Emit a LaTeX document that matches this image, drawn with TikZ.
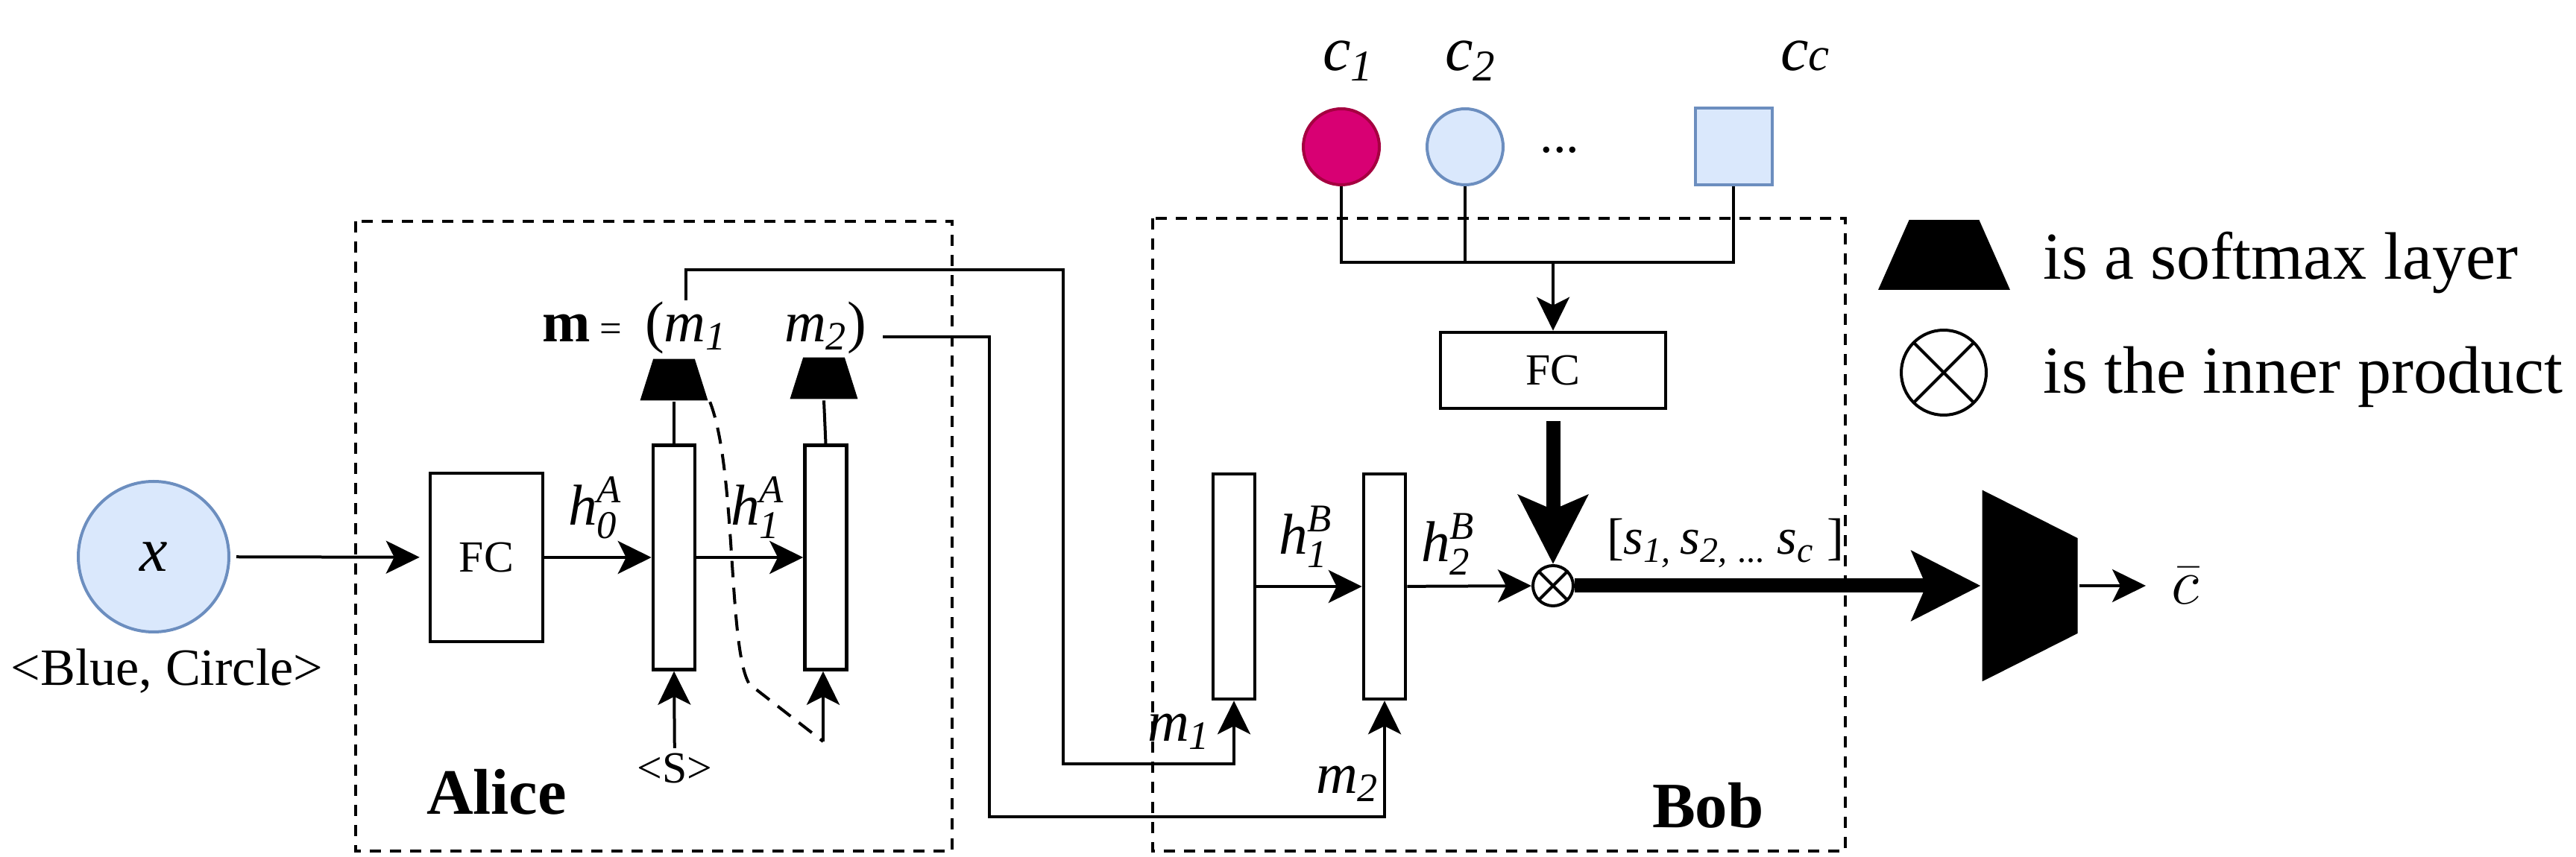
\documentclass[tikz,border=0pt]{standalone}
\usepackage{fontspec}
\setmainfont{Liberation Serif}
\usetikzlibrary{shapes.geometric,arrows.meta}
\definecolor{blfill}{HTML}{DAE8FC}
\definecolor{bldraw}{HTML}{6C8EBF}
\definecolor{rdfill}{HTML}{D80073}
\definecolor{rddraw}{HTML}{A50040}
\newcommand{\scr}[1]{{\fontsize{15}{17}\selectfont\textit{#1}}}
\newcommand{\hsym}[2]{\textit{h}\rlap{\raisebox{0.40em}{\scr{#2}}}\raisebox{-0.22em}{\scr{#1}}}
\newcommand{\isym}[2]{\textit{#1}\textsubscript{\textit{#2}}}
\begin{document}
\begin{tikzpicture}
[line width=0.04cm,
 >={Stealth[length=0.45cm,width=0.44cm,inset=0.11cm]},
 bigarrow/.style={line width=0.19cm,-{Stealth[length=0.92cm,width=0.92cm,inset=0.19cm]}},
 fcbox/.style={draw,line width=0.045cm,inner sep=0,font=\fontsize{17}{20}\selectfont},
 grubox/.style={draw,line width=0.045cm,inner sep=0,minimum width=0.56cm,minimum height=3.01cm},
 softmax/.style={trapezium,fill=black,inner sep=0.01pt},
 token/.style={circle,draw=bldraw,fill=blfill,inner sep=0},
 prod/.style={circle,draw,inner sep=0,path picture={
   \draw (path picture bounding box.north west) -- (path picture bounding box.south east)
         (path picture bounding box.north east) -- (path picture bounding box.south west);}},
 lab/.style={inner sep=0,anchor=base west,font=\fontsize{22}{26}\selectfont},
 biglab/.style={inner sep=0,anchor=base west,font=\fontsize{24}{28}\selectfont},
 party/.style={inner sep=0,anchor=base west,font=\fontsize{24.7}{28}\selectfont\bfseries},
 legtext/.style={inner sep=0,anchor=base west,font=\fontsize{25.6}{30}\selectfont},
 agentbox/.style={dash pattern=on 0.15cm off 0.12cm},
 feedback/.style={dash pattern=on 0.22cm off 0.14cm}]
\useasboundingbox (0,0) rectangle (34.55,-11.50);

%% input object
\node[token,minimum size=2.02cm,font=\fontsize{24}{28}\selectfont\itshape] (x) at (2.06,-7.47) {x};
\node[inner sep=0,anchor=base,font=\fontsize{20}{24}\selectfont] (xdesc) at (2.24,-9.20) {<Blue, Circle>};

%% Alice
\draw[agentbox] (4.77,-2.97) rectangle (12.77,-11.42);
\node[party] (alice) at (5.70,-10.93) {Alice};
\node[fcbox,minimum width=1.51cm,minimum height=2.26cm] (fcA) at (6.525,-7.48) {FC};
\node[grubox] (gruA1) at (9.04,-7.48) {};
\node[grubox] (gruA2) at (11.075,-7.48) {};
\node[softmax,minimum width=0.91cm,minimum height=0.49cm,trapezium angle=72.4] (smA1) at (9.04,-5.095) {};
\node[softmax,minimum width=0.91cm,minimum height=0.49cm,trapezium angle=72.4] (smA2) at (11.05,-5.075) {};
\node[lab] (mvec) at (7.25,-4.59) {\textbf{m}\,{\fontsize{15}{18}\selectfont =}};
\node[lab] (m1A) at (8.63,-4.59) {(\isym{m}{1}};
\node[lab] (m2A) at (10.50,-4.59) {\isym{m}{2})};
\node[lab] (hA0) at (7.60,-7.05) {\hsym{0}{A}};
\node[lab] (hA1) at (9.78,-7.05) {\hsym{1}{A}};
\node[inner sep=0.05cm,font=\fontsize{17}{20}\selectfont] (sos) at (9.05,-10.31) {<S>};
\coordinate (a2in) at (11.04,-9.95);

\draw[->,shorten <=0.08cm,shorten >=0.12cm] (x) -- (fcA);
\draw[->] (fcA) -- (gruA1);
\draw[->] (gruA1) -- (gruA2);
\draw (gruA1.north) -- (smA1.south);
\draw (gruA2.north) -- (smA2.south);
\draw[->] (sos) -- (gruA1.south);
\draw[feedback] (smA1.bottom right corner) .. controls (9.88,-6.3) and (9.76,-8.7) .. (10.05,-9.18) -- (a2in);
\draw[->] (a2in) -- (a2in |- gruA2.south);

%% Bob
\draw[agentbox] (15.46,-2.93) rectangle (24.75,-11.42);
\node[party] (bob) at (22.14,-11.10) {Bob};
\node[grubox,minimum height=3.02cm] (gruB1) at (16.55,-7.87) {};
\node[grubox,minimum height=3.02cm] (gruB2) at (18.57,-7.87) {};
\node[prod,minimum size=0.54cm] (ot) at (20.83,-7.86) {};
\node[fcbox,minimum width=3.02cm,minimum height=1.02cm] (fcB) at (20.83,-4.97) {FC};
\node[lab] (hB1) at (17.13,-7.44) {\hsym{1}{B}};
\node[lab] (hB2) at (19.04,-7.54) {\hsym{2}{B}};
\node[lab] (mB1) at (15.37,-9.95) {\isym{m}{1}};
\node[lab] (mB2) at (17.63,-10.65) {\isym{m}{2}};
\node[lab,font=\fontsize{19.5}{23}\selectfont] (scores) at (21.53,-7.44)
  {[\isym{s}{1,}\,\isym{s}{2,}\textsubscript{ ... }\isym{s}{c} ]};

%% candidates
\node[circle,draw=rddraw,fill=rdfill,inner sep=0,minimum size=1.02cm] (c1) at (17.99,-1.97) {};
\node[token,minimum size=1.02cm] (c2) at (19.65,-1.97) {};
\node[draw=bldraw,fill=blfill,inner sep=0,minimum size=1.03cm] (cc) at (23.25,-1.97) {};
\node[inner sep=0,anchor=base,font=\fontsize{20}{24}\selectfont] (dots) at (20.92,-2.05) {...};
\node[biglab] (c1lab) at (17.72,-0.95) {\isym{c}{1}};
\node[biglab] (c2lab) at (19.36,-0.95) {\isym{c}{2}};
\node[biglab] (cclab) at (23.86,-0.95) {\textit{c}{\fontsize{18}{20}\selectfont\textit{c}}};
\coordinate (bus) at (20.83,-3.52);

\draw (c1.south) |- (bus);
\draw (cc.south) |- (bus);
\draw (c2.south) -- (c2.south |- bus);
\draw[->] (bus) -- (fcB.north);
\draw[bigarrow] ([yshift=-0.15cm]fcB.south) -- (ot);
\draw[->] (gruB1) -- (gruB2);
\draw[->] (gruB2) -- (ot);

%% messages from Alice to Bob
\draw[->] (m1A.north) |- (14.26,-3.62) -- (14.26,-10.25) -| (gruB1.south);
\draw[->] ([shift={(0.2cm,0.07cm)}]m2A.base east) -| (13.27,-10.96) -| (gruB2.south);

%% output
\node[softmax,rotate=-90,minimum width=2.58cm,minimum height=1.05cm,trapezium angle=63.2] (outsm) at (27.225,-7.86) {};
\node[inner sep=0,anchor=west,font=\fontsize{31}{36}\selectfont] (cbar) at (29.10,-7.86) {$\bar{c}$};
\draw[bigarrow] (ot) -- (outsm.south);
\draw[->,shorten >=0.32cm] (outsm.north) -- (cbar);

%% legend
\node[softmax,minimum width=1.77cm,minimum height=0.80cm,trapezium angle=66.1] (legsm) at (26.075,-3.42) {};
\node[prod,minimum size=1.14cm] (legot) at (26.07,-5.00) {};
\node[legtext] (legsmtxt) at (27.38,-3.75) {is a softmax layer};
\node[legtext] (legottxt) at (27.38,-5.28) {is the inner product};
\end{tikzpicture}
\end{document}
